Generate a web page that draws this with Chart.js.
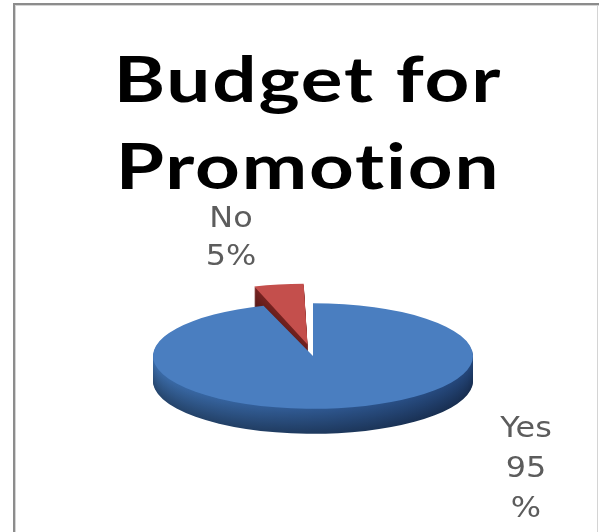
<!DOCTYPE html>
<html>
<head>
<meta charset="utf-8">
<title>Budget for Promotion</title>
<script src="https://cdn.jsdelivr.net/npm/chart.js@4.4.1/dist/chart.umd.min.js"></script>
<style>
  html, body { margin: 0; padding: 0; background: #fff; }
  canvas { display: block; }
</style>
</head>
<body>
<canvas id="budgetChart" width="599" height="532"></canvas>
<script>
// Chart data
const TITLE_LINES = ['Budget for', 'Promotion'];
const CATEGORIES = ['Yes', 'No'];
const SHARES = [95, 5];

// Slice styling: top face, rim (left/right) just under the edge, rim at the bottom
const FACE_COLORS = ['#4a7ec0', '#c44f4c'];
const SIDE_LEFT = ['#3b6ca9', '#7e2624'];
const SIDE_RIGHT = ['#24467a', '#6a1d1c'];
const SIDE_DARKEN = 0.35;
const EXPLODE = [0, 140];

const TILT = 0.33;   // vertical squash of the disc
const DEPTH = 25;    // disc thickness, px on screen
const LABEL_FONT = '29px "DejaVu Sans"';
const LABEL_COLOR = '#5c5c5c';

function hexToRgb(h) {
    const n = parseInt(h.slice(1), 16);
    return [(n >> 16) & 255, (n >> 8) & 255, n & 255];
}

function shadeHex(h, k) {
    const c = hexToRgb(h).map(v => Math.round(v * (1 - k)));
    return `rgb(${c[0]}, ${c[1]}, ${c[2]})`;
}

// Label lines per slice, built from the values
function sliceLabel(i) {
    if (i === 0) return [CATEGORIES[i], String(SHARES[i]), '%'];
    return [CATEGORIES[i], SHARES[i] + '%'];
}

// Background + frame lines
const framePlugin = {
    id: 'frame',
    beforeDraw(chart) {
        const { ctx, width, height } = chart;
        ctx.save();
        ctx.fillStyle = '#fff';
        ctx.fillRect(0, 0, width, height);
        ctx.fillStyle = '#8c8c8c';
        ctx.fillRect(13, 3, 2, height - 3);
        ctx.fillRect(13, 3, width - 13, 2);
        ctx.fillStyle = '#d4d4d4';
        ctx.fillRect(15, 5, 1, height - 5);
        ctx.fillRect(15, 5, width - 15, 1);
        ctx.fillRect(597, 5, 1, height - 5);
        ctx.restore();
    }
};

// Squash the pie into an ellipse and stack darker copies underneath for depth
const tiltPlugin = {
    id: 'tilt',
    beforeDatasetsDraw(chart) {
        const ctx = chart.ctx;
        const arcs = chart.getDatasetMeta(0).data;
        const { x, y } = arcs[0];
        const r = arcs[0].outerRadius;
        ctx.save();
        ctx.translate(x, y);
        ctx.scale(1, TILT);
        ctx.translate(-x, -y);
        for (let d = DEPTH; d > 0; d--) {
            const t = (d / DEPTH) * SIDE_DARKEN;
            arcs.forEach((arc, i) => {
                const grad = ctx.createLinearGradient(x - r, 0, x + r, 0);
                grad.addColorStop(0, shadeHex(SIDE_LEFT[i], t));
                grad.addColorStop(1, shadeHex(SIDE_RIGHT[i], t));
                const shade = Object.create(arc);
                shade.options = Object.assign({}, arc.options, {
                    backgroundColor: grad,
                    borderWidth: 0
                });
                ctx.save();
                ctx.translate(0, d / TILT);
                shade.draw(ctx);
                ctx.restore();
            });
        }
    },
    afterDatasetsDraw(chart) {
        chart.ctx.restore();
    }
};

// Two-line title and the slice labels
const textPlugin = {
    id: 'texts',
    afterDraw(chart) {
        const ctx = chart.ctx;
        const arcs = chart.getDatasetMeta(0).data;
        const { x, y } = arcs[0];

        ctx.save();
        ctx.fillStyle = '#000';
        ctx.textAlign = 'center';
        ctx.textBaseline = 'alphabetic';
        ctx.font = 'bold 63px Lato';
        ctx.letterSpacing = '1.5px';   // also keeps "ti" from joining
        TITLE_LINES.forEach((line, i) => {
            ctx.save();
            ctx.translate(308, 102 + i * 87);
            ctx.scale(1.24, 1);
            ctx.fillText(line, 0, 0);
            ctx.restore();
        });
        ctx.letterSpacing = '0px';

        ctx.font = LABEL_FONT;
        ctx.fillStyle = LABEL_COLOR;
        // label anchors relative to the pie centre
        const anchors = [
            { dx: 213, dy: 81, lh: 40 },
            { dx: -82, dy: -129, lh: 38 }
        ];
        arcs.forEach((arc, i) => {
            const a = anchors[i];
            sliceLabel(i).forEach((line, k) => {
                ctx.save();
                ctx.translate(x + a.dx, y + a.dy + k * a.lh);
                ctx.scale(1.1, 1);
                ctx.fillText(line, 0, 0);
                ctx.restore();
            });
        });
        ctx.restore();
    }
};

new Chart(document.getElementById('budgetChart'), {
    type: 'pie',
    data: {
        labels: CATEGORIES,
        datasets: [{
            data: SHARES,
            backgroundColor: FACE_COLORS,
            borderWidth: 0,
            offset: EXPLODE,
            radius: 160
        }]
    },
    options: {
        responsive: false,
        animation: false,
        layout: { padding: { left: 153, right: 126, top: 196, bottom: 16 } },
        plugins: {
            legend: { display: false },
            title: { display: false },
            tooltip: { enabled: false }
        }
    },
    plugins: [framePlugin, tiltPlugin, textPlugin]
});
</script>
</body>
</html>
